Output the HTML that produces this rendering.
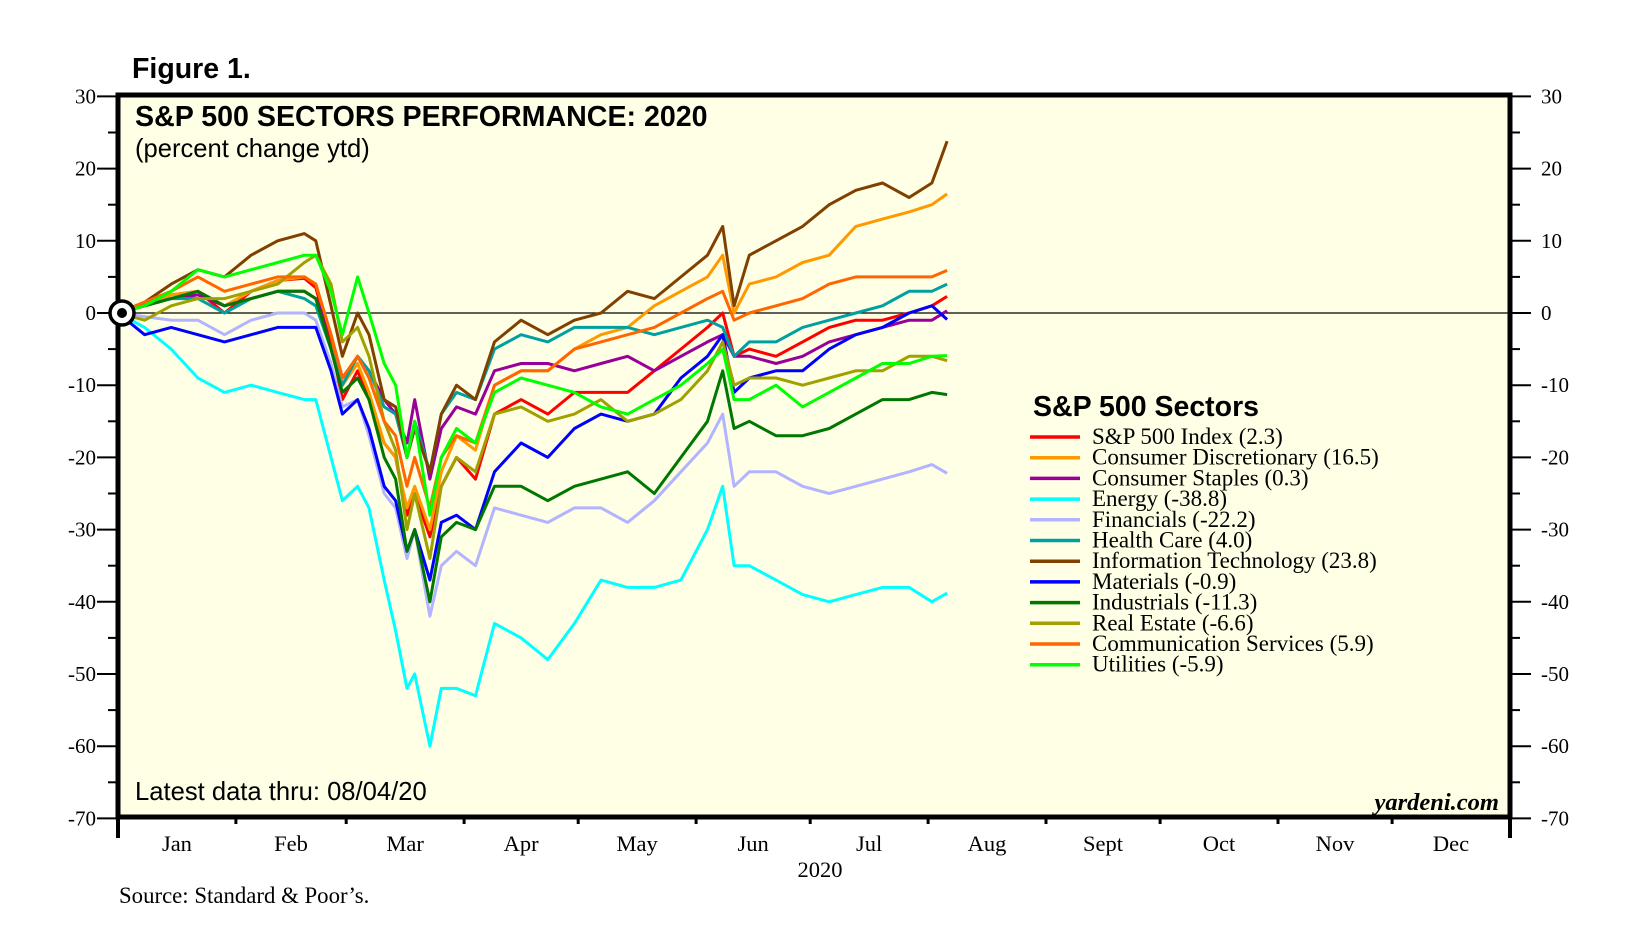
<!DOCTYPE html>
<html><head><meta charset="utf-8"><style>
body{margin:0;background:#fff;}
svg{display:block;}
</style></head><body>
<svg id="chart" width="1647" height="951" viewBox="0 0 1647 951" xmlns="http://www.w3.org/2000/svg">
<rect x="118" y="95" width="1392" height="722" fill="#ffffe6"/>
<g id="grid"></g>
<g id="series"></g>
<rect x="118" y="95" width="1392" height="722" fill="none" stroke="#000" stroke-width="5"/>
<g id="axes"></g>
<text x="132" y="78" font-family="Liberation Sans, sans-serif" font-weight="bold" font-size="28.5">Figure 1.</text>
<text x="135" y="126" font-family="Liberation Sans, sans-serif" font-weight="bold" font-size="28.6">S&amp;P 500 SECTORS PERFORMANCE: 2020</text>
<text x="135" y="157" font-family="Liberation Sans, sans-serif" font-size="25.6">(percent change ytd)</text>
<text x="135" y="800" font-family="Liberation Sans, sans-serif" font-size="25.6">Latest data thru: 08/04/20</text>
<text x="1499" y="810" text-anchor="end" font-family="Liberation Serif, serif" font-weight="bold" font-style="italic" font-size="24.5">yardeni.com</text>
<text x="820" y="877" text-anchor="middle" font-family="Liberation Serif, serif" font-size="22.5">2020</text>
<text x="119" y="903" font-family="Liberation Serif, serif" font-size="22.8">Source: Standard &amp; Poor’s.</text>
<g id="legend"></g>
<g><circle cx="122" cy="313" r="12" fill="#fff" stroke="#000" stroke-width="3.5"/><circle cx="122" cy="313" r="5" fill="#000"/></g>
</svg>
<script>
const days=[0,7,14,21,28,35,42,49,52,56,59,63,66,70,73,76,78,82,85,89,94,99,106,113,120,127,134,141,148,155,159,162,166,173,180,187,194,201,208,214,218];
const yTicks=[30,20,10,0,-10,-20,-30,-40,-50,-60,-70];
const months=["Jan","Feb","Mar","Apr","May","Jun","Jul","Aug","Sept","Oct","Nov","Dec"];
const monthStarts=[0,31,60,91,121,152,182,213,244,274,305,335,366];
const seriesNames=["S&P 500 Index (2.3)","Consumer Discretionary (16.5)","Consumer Staples (0.3)","Energy (-38.8)","Financials (-22.2)","Health Care (4.0)","Information Technology (23.8)","Materials (-0.9)","Industrials (-11.3)","Real Estate (-6.6)","Communication Services (5.9)","Utilities (-5.9)"];
const seriesColors=["#ff0000","#ff9900","#990099","#00ffff","#b3b3ff","#00a0a0","#804000","#0000ff","#007700","#a0a000","#ff6600","#00ff00"];
const sp500=[0,1,2.5,3,0,3,4.5,4.8,3.5,-4,-12,-8,-12,-18,-20,-28,-25,-31,-24,-20,-23,-14,-12,-14,-11,-11,-11,-8,-5,-2,0,-6,-5,-6,-4,-2,-1,-1,0,1,2.3];
const discretionary=[0,1,2.5,3,1,3,4.5,5,4,-3,-10,-7,-11,-18,-20,-27,-24,-30,-22,-17,-19,-10,-8,-8,-5,-3,-2,1,3,5,8,0,4,5,7,8,12,13,14,15,16.5];
const staples=[0,1,2,2.5,1,2,3,3,2,-3,-9,-6,-8,-12,-14,-18,-12,-23,-16,-13,-14,-8,-7,-7,-8,-7,-6,-8,-6,-4,-3,-6,-6,-7,-6,-4,-3,-2,-1,-1,0.3];
const energy=[0,-2,-5,-9,-11,-10,-11,-12,-12,-20,-26,-24,-27,-37,-44,-52,-50,-60,-52,-52,-53,-43,-45,-48,-43,-37,-38,-38,-37,-30,-24,-35,-35,-37,-39,-40,-39,-38,-38,-40,-38.8];
const financials=[0,-0.5,-1,-1,-3,-1,0,0,-1,-7,-13,-12,-17,-25,-27,-34,-30,-42,-35,-33,-35,-27,-28,-29,-27,-27,-29,-26,-22,-18,-14,-24,-22,-22,-24,-25,-24,-23,-22,-21,-22.2];
const healthCare=[0,1,2,2,0,2,3,2,1,-5,-10,-6,-8,-13,-14,-20,-15,-22,-14,-11,-12,-5,-3,-4,-2,-2,-2,-3,-2,-1,-2,-6,-4,-4,-2,-1,0,1,3,3,4];
const infoTech=[0,1.5,4,6,5,8,10,11,10,1,-6,0,-3,-12,-13,-20,-16,-22,-14,-10,-12,-4,-1,-3,-1,0,3,2,5,8,12,1,8,10,12,15,17,18,16,18,23.8];
const materials=[0,-3,-2,-3,-4,-3,-2,-2,-2,-8,-14,-12,-16,-24,-26,-33,-30,-37,-29,-28,-30,-22,-18,-20,-16,-14,-15,-14,-9,-6,-3,-11,-9,-8,-8,-5,-3,-2,0,1,-0.9];
const industrials=[0,1,2,3,1,2,3,3,2,-5,-11,-9,-12,-20,-23,-33,-30,-40,-31,-29,-30,-24,-24,-26,-24,-23,-22,-25,-20,-15,-8,-16,-15,-17,-17,-16,-14,-12,-12,-11,-11.3];
const realEstate=[0,-1,1,2,2,3,4,7,8,4,-4,-2,-6,-15,-19,-30,-25,-34,-24,-20,-22,-14,-13,-15,-14,-12,-15,-14,-12,-8,-4,-10,-9,-9,-10,-9,-8,-8,-6,-6,-6.6];
const commServices=[0,1.5,3,5,3,4,5,5,4,-3,-9,-6,-9,-15,-17,-24,-20,-27,-20,-17,-18,-10,-8,-8,-5,-4,-3,-2,0,2,3,-1,0,1,2,4,5,5,5,5,5.9];
const utilities=[0,1,3,6,5,6,7,8,8,3,-3,5,0,-7,-10,-20,-15,-28,-20,-16,-18,-11,-9,-10,-11,-13,-14,-12,-10,-7,-5,-12,-12,-10,-13,-11,-9,-7,-7,-6,-5.9];
const allSeries=[sp500,discretionary,staples,energy,financials,healthCare,infoTech,materials,industrials,realEstate,commServices,utilities];

const NS="http://www.w3.org/2000/svg";
const X0=118,X1=1510,Y0=313,PX=7.22;
function x(d){return X0+d*(X1-X0)/366;}
function y(v){return Y0-v*PX;}
function mk(tag,attrs,parent,txt){const e=document.createElementNS(NS,tag);for(const k in attrs)e.setAttribute(k,attrs[k]);if(txt!==undefined)e.textContent=txt;parent.appendChild(e);return e;}
const axes=document.getElementById('axes'),grid=document.getElementById('grid'),ser=document.getElementById('series'),leg=document.getElementById('legend');
const zl=mk('line',{x1:X0,x2:X1,y1:y(0),y2:y(0),stroke:'#000','stroke-width':1.2},grid);


yTicks.forEach((t,i)=>{
  const yy=y(t);
  const l=mk('line',{x1:X0-21,x2:X0,y1:yy,y2:yy,stroke:'#000','stroke-width':2},axes);
  
  
  const r=mk('line',{x1:X1,x2:X1+21,y1:yy,y2:yy,stroke:'#000','stroke-width':2},axes);
  
  
  if(i<yTicks.length-1){const m=y(t-5);
    const a=mk('line',{x1:X0-10,x2:X0,y1:m,y2:m,stroke:'#000','stroke-width':2},axes);
    
    
    const b=mk('line',{x1:X1,x2:X1+10,y1:m,y2:m,stroke:'#000','stroke-width':2},axes);
    
    }
  const lt=mk('text',{x:96,y:yy+7,'text-anchor':'end','font-family':'Liberation Serif, serif','font-size':21},axes,t);
  
  
  const rt=mk('text',{x:1541,y:yy+7,'font-family':'Liberation Serif, serif','font-size':21},axes,t);
  
  
});
monthStarts.forEach((d,i)=>{
  const big=(i==0||i==12);
  const t=mk('line',{x1:x(d),x2:x(d),y1:817,y2:big?838:824,stroke:'#000','stroke-width':big?4:3},axes);
  
  
  if(i<12){const lb=mk('text',{x:x((d+monthStarts[i+1])/2),y:851,'text-anchor':'middle','font-family':'Liberation Serif, serif','font-size':22.5},axes,months[i]);
    
    }
});
allSeries.forEach((vals,si)=>{
  const pts=vals.map((v,i)=>x(days[i]).toFixed(1)+','+y(v).toFixed(1)).join(' ');
  const pl=mk('polyline',{points:pts,fill:'none',stroke:seriesColors[si],'stroke-width':3,'stroke-linejoin':'round'},ser);
  
  
});
const lt=mk('text',{x:1033,y:416,'font-family':'Liberation Sans, sans-serif','font-weight':'bold','font-size':28.5},leg,'S&P 500 Sectors');


seriesNames.forEach((n,i)=>{
  const yy=437+i*20.7;
  const g=mk('g',{},leg);
  
  
  mk('line',{x1:1030,x2:1080,y1:yy,y2:yy,stroke:seriesColors[i],'stroke-width':3.5},g);
  mk('text',{x:1092,y:yy+7,'font-family':'Liberation Serif, serif','font-size':23},g,n);
});
</script>
</body></html>
